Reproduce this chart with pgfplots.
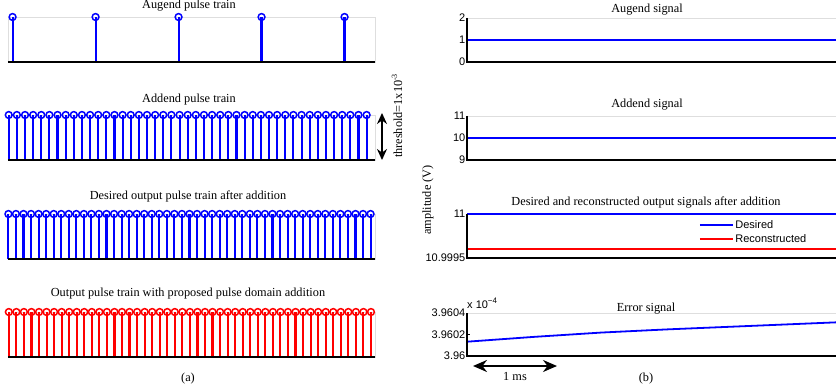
\documentclass[border=0pt]{standalone}
\usepackage{pgfplots}
\pgfplotsset{compat=1.18}
\usepackage{fontspec}
\setmainfont{Liberation Serif}
\newfontfamily\sansf{Liberation Sans}
\usetikzlibrary{arrows.meta}
\definecolor{mblue}{RGB}{0,0,255}
\definecolor{mred}{RGB}{255,0,0}
\definecolor{framegray}{RGB}{222,222,222}
\newcommand{\ttl}{\fontsize{12.3}{14}\selectfont}
\newcommand{\tks}{\sansf\fontsize{11}{13}\selectfont}

\pgfplotsset{
  pulse/.style={scale only axis, width=367pt, height=45pt,
    xmin=-0.005, xmax=4.417, ymin=0, ymax=1,
    axis line style={framegray, line width=0.8pt},
    xtick=\empty, ytick=\empty, clip=false},
  stem/.style={ycomb, line width=2.1pt, mark=o, mark size=3.4pt,
    mark options={line width=1.5pt}},
  sig/.style={scale only axis, width=369pt, height=44pt,
    xmin=0, xmax=4.4,
    axis line style={framegray, line width=0.8pt},
    xtick=\empty, ytick pos=left, tick align=inside,
    major tick length=3pt, tick style={black, line width=0.7pt},
    yticklabel style={font=\tks, inner sep=1.5pt},
    /pgf/number format/assume math mode=true,
    scaled y ticks=false,
    clip=false},
}

\begin{document}
\begin{tikzpicture}
\useasboundingbox (0,0) rectangle (836pt,-385pt);

% ---------- left column: pulse trains ----------
\begin{axis}[pulse, at={(8pt,-62pt)}, anchor=south west]
\addplot[stem, mblue] coordinates {(0.05,1) (1.05,1) (2.05,1) (3.05,1) (4.05,1)};
\draw[black, line width=2.2pt] (rel axis cs:0,0) -- (rel axis cs:1,0);
\end{axis}

\begin{axis}[pulse, at={(8pt,-160pt)}, anchor=south west]
\addplot[stem, mblue] coordinates {
(0.004,1) (0.102,1) (0.200,1) (0.298,1) (0.396,1) (0.494,1) (0.592,1) (0.690,1)
(0.788,1) (0.886,1) (0.984,1) (1.082,1) (1.180,1) (1.278,1) (1.376,1) (1.474,1)
(1.572,1) (1.670,1) (1.768,1) (1.866,1) (1.964,1) (2.062,1) (2.160,1) (2.258,1)
(2.356,1) (2.454,1) (2.552,1) (2.650,1) (2.748,1) (2.846,1) (2.944,1) (3.042,1)
(3.140,1) (3.238,1) (3.336,1) (3.434,1) (3.532,1) (3.630,1) (3.728,1) (3.826,1)
(3.924,1) (4.022,1) (4.120,1) (4.218,1) (4.316,1)};
\draw[black, line width=2.2pt] (rel axis cs:0,0) -- (rel axis cs:1,0);
\end{axis}

\begin{axis}[pulse, at={(8pt,-259pt)}, anchor=south west]
\addplot[stem, mblue] coordinates {
(0,1) (0.0909,1) (0.1818,1) (0.2727,1) (0.3636,1) (0.4545,1) (0.5455,1) (0.6364,1)
(0.7273,1) (0.8182,1) (0.9091,1) (1.0,1) (1.0909,1) (1.1818,1) (1.2727,1) (1.3636,1)
(1.4545,1) (1.5455,1) (1.6364,1) (1.7273,1) (1.8182,1) (1.9091,1) (2.0,1) (2.0909,1)
(2.1818,1) (2.2727,1) (2.3636,1) (2.4545,1) (2.5455,1) (2.6364,1) (2.7273,1) (2.8182,1)
(2.9091,1) (3.0,1) (3.0909,1) (3.1818,1) (3.2727,1) (3.3636,1) (3.4545,1) (3.5455,1)
(3.6364,1) (3.7273,1) (3.8182,1) (3.9091,1) (4.0,1) (4.0909,1) (4.1818,1) (4.2727,1)
(4.3636,1)};
\draw[black, line width=2.2pt] (rel axis cs:0,0) -- (rel axis cs:1,0);
\end{axis}

\begin{axis}[pulse, at={(8pt,-357pt)}, anchor=south west]
\addplot[stem, mred] coordinates {
(0.005,1) (0.0959,1) (0.1868,1) (0.2777,1) (0.3686,1) (0.4595,1) (0.5505,1) (0.6414,1)
(0.7323,1) (0.8232,1) (0.9141,1) (1.005,1) (1.0959,1) (1.1868,1) (1.2777,1) (1.3686,1)
(1.4595,1) (1.5505,1) (1.6414,1) (1.7323,1) (1.8232,1) (1.9141,1) (2.005,1) (2.0959,1)
(2.1868,1) (2.2777,1) (2.3686,1) (2.4595,1) (2.5505,1) (2.6414,1) (2.7323,1) (2.8232,1)
(2.9141,1) (3.005,1) (3.0959,1) (3.1868,1) (3.2777,1) (3.3686,1) (3.4595,1) (3.5505,1)
(3.6414,1) (3.7323,1) (3.8232,1) (3.9141,1) (4.005,1) (4.0959,1) (4.1868,1) (4.2777,1)
(4.3686,1)};
\draw[black, line width=2.2pt] (rel axis cs:0,0) -- (rel axis cs:1,0);
\end{axis}

% ---------- right column: signals ----------
\begin{axis}[sig, at={(467pt,-62pt)}, anchor=south west,
  ymin=0, ymax=2, ytick={0,1,2}]
\addplot[mblue, line width=2pt] coordinates {(0,1) (4.4,1)};
\draw[black, line width=2pt] (rel axis cs:0,1) -- (rel axis cs:0,0) -- (rel axis cs:1,0);
\end{axis}

\begin{axis}[sig, at={(467pt,-160pt)}, anchor=south west,
  ymin=9, ymax=11, ytick={9,10,11}]
\addplot[mblue, line width=2pt] coordinates {(0,10) (4.4,10)};
\draw[black, line width=2pt] (rel axis cs:0,1) -- (rel axis cs:0,0) -- (rel axis cs:1,0);
\end{axis}

\begin{axis}[sig, at={(467pt,-258pt)}, anchor=south west,
  ymin=10.9995, ymax=11, ytick={10.9995,11},
  yticklabel style={/pgf/number format/.cd, fixed, precision=4},
  legend style={at={(0.628,0.9)}, anchor=north west, draw=none, fill=none,
    font=\tks, row sep=1.5pt, inner sep=0pt, nodes={inner sep=1.5pt}},
  legend cell align=left,
  legend image code/.code={\draw[#1] (0pt,0pt) -- (33pt,0pt);}]
\addplot[mblue, line width=2pt] coordinates {(0,11) (4.4,11)};
\addlegendentry{Desired}
\addplot[mred, line width=2pt] coordinates {(0,10.999604) (4.4,10.999604)};
\addlegendentry{Reconstructed}
\draw[black, line width=2pt] (rel axis cs:0,1) -- (rel axis cs:0,0) -- (rel axis cs:1,0);
\end{axis}

\begin{axis}[sig, at={(467pt,-356pt)}, anchor=south west, height=43pt,
  ymin=3.96, ymax=3.9604, ytick={3.96,3.9602,3.9604},
  yticklabel style={/pgf/number format/.cd, fixed, precision=4}]
\addplot[mblue, line width=1.8pt] coordinates {
(0,3.960133) (0.8,3.960178) (1.6,3.960218) (2.4,3.960248)
(3.2,3.960274) (4.0,3.960300) (4.4,3.960313)};
\draw[black, line width=2pt] (rel axis cs:0,1) -- (rel axis cs:0,0) -- (rel axis cs:1,0);
\end{axis}

% ---------- titles and annotations ----------
\node[anchor=base, font=\ttl] at (189pt,-9pt) {Augend pulse train};
\node[anchor=base, font=\ttl] at (189pt,-103pt) {Addend pulse train};
\node[anchor=base, font=\ttl] at (188pt,-200pt) {Desired output pulse train after addition};
\node[anchor=base, font=\ttl] at (188pt,-296pt) {Output pulse train with proposed pulse domain addition};

\node[anchor=base, font=\ttl] at (647pt,-13pt) {Augend signal};
\node[anchor=base, font=\ttl] at (647pt,-108pt) {Addend signal};
\node[anchor=base, font=\ttl] at (646pt,-205pt) {Desired and reconstructed output signals after addition};
\node[anchor=base, font=\ttl] at (646pt,-311pt) {Error signal};

\node[anchor=base west, font=\tks, inner sep=0pt] at (467pt,-308pt) {x 10\raisebox{0.8ex}{\fontsize{8}{9}\selectfont −4}};

\node[rotate=90, font=\ttl] at (397pt,-116pt) {threshold=1x10\raisebox{0.9ex}{\fontsize{8}{9}\selectfont -3}};
\node[rotate=90, font=\ttl] at (428pt,-200pt) {amplitude (V)};

\draw[line width=1.6pt, {Stealth[length=11pt,width=10pt]}-{Stealth[length=11pt,width=10pt]}] (382pt,-113pt) -- (382pt,-160pt);
\draw[line width=2pt, {Stealth[length=14pt,width=12pt]}-{Stealth[length=14pt,width=12pt]}] (473pt,-366pt) -- (557pt,-366pt);
\node[anchor=base, font=\ttl] at (515pt,-380pt) {1 ms};

\node[anchor=base, font=\ttl] at (188pt,-381.5pt) {(a)};
\node[anchor=base, font=\ttl] at (646pt,-381.5pt) {(b)};
\end{tikzpicture}
\end{document}
